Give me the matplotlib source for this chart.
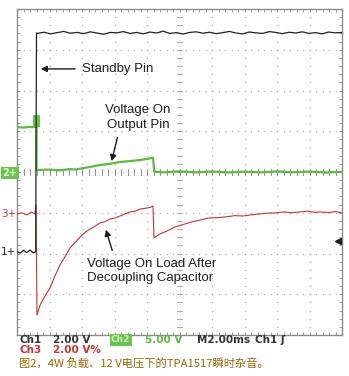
import numpy as np
import matplotlib.pyplot as plt

# scope settings (per division)
ch1_scale, ch2_scale, ch3_scale = 2.0, 5.0, 2.0    # V/div
ch1_offset, ch2_offset, ch3_offset = -1.96, 0.0, -1.03   # ground marker, div
ms_per_div = 2.0

# Ch1 : standby pin
ch1_t_low = [0.0, 0.2, 0.4, 0.6, 0.8, 1.0, 1.15]
ch1_v_low = [0.02, -0.06, 0.08, -0.04, 0.09, -0.05, 0.0]
ch1_v_high = [10.72, 10.78, 10.70, 10.76, 10.82, 10.73, 10.77, 10.71, 10.80, 10.74,
              10.68, 10.77, 10.75, 10.81, 10.72, 10.77, 10.70, 10.79, 10.74, 10.83,
              10.72, 10.76, 10.69, 10.77, 10.80, 10.73, 10.78, 10.71, 10.76, 10.82,
              10.74, 10.70, 10.79, 10.75, 10.72, 10.81, 10.77, 10.71, 10.78, 10.74,
              10.80, 10.72, 10.76, 10.70, 10.79, 10.75, 10.77]

# Ch2 : output pin
ch2_t = [0.0, 0.4, 0.8, 0.97, 1.2, 1.2, 1.42, 2.0, 2.65, 3.2, 3.57, 4.3, 5.11, 5.7,
         6.34, 7.0, 7.57, 8.0, 8.37, 8.45, 9.0, 10.0, 11.0, 12.0, 13.0, 14.0, 15.0,
         16.0, 17.0, 18.0, 19.0, 20.0]
ch2_v = [5.5, 5.45, 5.55, 5.5, 5.6, 0.25, 0.25, 0.3, 0.2, 0.35, 0.3, 0.55, 0.86, 1.0,
         1.23, 1.35, 1.47, 1.6, 1.75, 0.05, -0.05, 0.08, -0.04, 0.06, -0.06, 0.04,
         -0.05, 0.07, -0.03, 0.05, -0.06, 0.02]
ch2_burst_t = [0.98, 1.42]
ch2_burst_v = [5.5, 7.0]

# Ch3 : load after decoupling capacitor
ch3_t = [0.0, 0.3, 0.6, 0.9, 1.1, 1.17, 1.23, 1.42, 1.72, 2.03, 2.3, 2.65, 2.95, 3.26,
         3.6, 3.88, 4.2, 4.49, 4.8, 5.11, 5.4, 5.72, 6.0, 6.34, 6.65, 6.95, 7.3, 7.57,
         7.9, 8.2, 8.37, 8.43, 8.8, 9.2, 9.72, 10.3, 10.8, 11.26, 11.8, 12.3, 12.8,
         13.4, 13.9, 14.34, 14.9, 15.4, 15.88, 16.4, 16.9, 17.42, 17.9, 18.3, 18.65,
         19.2, 19.6, 20.0]
ch3_v = [0.0, 0.06, -0.05, 0.1, 0.0, 0.44, -4.96, -4.47, -4.03, -3.63, -3.1, -2.5,
         -2.1, -1.67, -1.38, -1.13, -0.9, -0.74, -0.6, -0.44, -0.38, -0.25, -0.2,
         -0.1, 0.0, 0.1, 0.14, 0.24, 0.28, 0.32, 0.39, -1.18, -0.98, -0.85, -0.64,
         -0.5, -0.38, -0.3, -0.2, -0.18, -0.15, -0.08, -0.1, -0.05, 0.0, 0.04, 0.05,
         0.1, 0.06, 0.1, 0.14, 0.08, 0.1, 0.07, 0.12, 0.05]


def to_div(v, scale, offset):
    return np.asarray(v) / scale + offset


fig = plt.figure(figsize=(3.49, 3.76), dpi=100)
W, H = 349, 376
ax = fig.add_axes([17 / W, 1 - 335 / H, 325 / W, 326 / H])
ax.set_xlim(0, 10 * ms_per_div)
ax.set_ylim(-4, 4)

# graticule: dotted grid
minor_x = np.arange(0, 20.01, 0.4)
minor_y = np.arange(-4, 4.01, 0.2)
dot = dict(color='#b4b4b4', s=1.2, lw=0, zorder=1)
for gx in np.arange(2, 20, 2):
    if gx == 10:
        continue
    ax.scatter(np.full(len(minor_y), gx), minor_y, **dot)
for gy in range(-3, 4):
    if gy == 0:
        continue
    ax.scatter(minor_x, np.full(len(minor_x), gy), **dot)
# centre cross with ticks
ax.plot([10, 10], [-4, 4], color='#c8c8c8', lw=0.5, ls=(0, (1, 3)), zorder=1)
ax.plot([0, 20], [0, 0], color='#c8c8c8', lw=0.5, ls=(0, (1, 3)), zorder=1)
for yy in minor_y:
    ax.plot([9.85, 10.15], [yy, yy], color='#a0a0a0', lw=0.6, zorder=1)
for xx in minor_x:
    ax.plot([xx, xx], [-0.07, 0.07], color='#808080', lw=0.6, zorder=1)

ax.set_xticks(minor_x)
ax.set_yticks(minor_y)
ax.tick_params(which='both', direction='in', length=2.5, width=0.6, color='#909090',
               top=True, right=True, labelbottom=False, labelleft=False)
for s in ax.spines.values():
    s.set_color('#8a8a8a')
    s.set_linewidth(1.0)

# Ch1 trace
ch1_t_high = np.linspace(1.25, 20.0, len(ch1_v_high))
t1 = list(ch1_t_low) + [1.2] + list(ch1_t_high)
v1 = list(ch1_v_low) + [10.75] + list(ch1_v_high)
ax.plot(t1, to_div(v1, ch1_scale, ch1_offset), color='#222222', lw=0.9, zorder=4)

# Ch2 trace
ax.fill_between(ch2_burst_t, to_div(ch2_burst_v[0], ch2_scale, ch2_offset),
                to_div(ch2_burst_v[1], ch2_scale, ch2_offset), color='#6cc24a', lw=0, zorder=3)
ax.plot(ch2_t, to_div(ch2_v, ch2_scale, ch2_offset), color='#5dba3c', lw=1.6, zorder=3)

# Ch3 trace
ax.plot(ch3_t, to_div(ch3_v, ch3_scale, ch3_offset), color='#c83232', lw=0.8, zorder=3)

# trigger level marker
ax.plot([19.75], [-1.69], marker='<', color='#202020', ms=4.5, zorder=5)
ax.plot([19.75, 19.95], [-1.69, -1.69], color='#202020', lw=1.0, zorder=5)

# annotations
txt = dict(fontsize=9.5, color='#1e1e1e', family='Liberation Sans')
arw = dict(arrowstyle='-|>', color='#1a1a1a', lw=1.0, mutation_scale=9)
ax.text(4.0, 2.53, 'Standby Pin', ha='left', va='center', **txt)
ax.annotate('', xy=(1.29, 2.53), xytext=(3.75, 2.53), arrowprops=arw)
ax.text(7.45, 1.34, 'Voltage On\nOutput Pin', ha='center', va='center',
        linespacing=1.25, **txt)
ax.annotate('', xy=(5.78, 0.2), xytext=(6.22, 0.91), arrowprops=arw)
ax.text(4.31, -2.43, 'Voltage On Load After\nDecoupling Capacitor', ha='left',
        va='center', linespacing=1.25, **txt)
ax.annotate('', xy=(5.42, -1.35), xytext=(5.91, -1.99), arrowprops=arw)

# channel ground markers
fig.text(10 / W, 1 - 173 / H, '2+', fontsize=7, color='#d8ffd0', ha='center', va='center',
         fontweight='bold', bbox=dict(boxstyle='square,pad=0.15', fc='#6cc24a', ec='none'))
fig.text(9 / W, 1 - 214 / H, '3+', fontsize=7.5, color='#c83232', ha='center', va='center')
fig.text(8 / W, 1 - 252 / H, '1+', fontsize=7.5, color='#2a2a2a', ha='center', va='center')

# scope readout
ro = dict(fontsize=7.5, fontweight='bold', va='center', family='DejaVu Sans')
fig.text(19 / W, 1 - 340 / H, 'Ch1', color='#333333', **ro)
fig.text(53 / W, 1 - 340 / H, '2.00 V', color='#333333', **ro)
fig.text(111 / W, 1 - 340 / H, 'Ch2', color='#c8f0b8', fontsize=6.5, fontweight='bold',
         va='center', bbox=dict(boxstyle='square,pad=0.15', fc='#6cc24a', ec='none'))
fig.text(145 / W, 1 - 340 / H, '5.00 V', color='#5dba3c', **ro)
fig.text(197 / W, 1 - 340 / H, 'M2.00ms', color='#333333', **ro)
fig.text(255 / W, 1 - 340 / H, 'Ch1 ʃ', color='#333333', **ro)
fig.text(19 / W, 1 - 350 / H, 'Ch3', color='#d03030', **ro)
fig.text(53 / W, 1 - 350 / H, '2.00 V%', color='#d03030', **ro)

# caption
fig.text(19 / W, 1 - 364 / H, '图2，4W 负载、12 V电压下的TPA1517瞬时杂音。',
         fontsize=8.1, color='#9a6a00', va='center',
         family=['Noto Sans CJK SC', 'DejaVu Sans'])

fig.savefig('out.png', dpi=100)
